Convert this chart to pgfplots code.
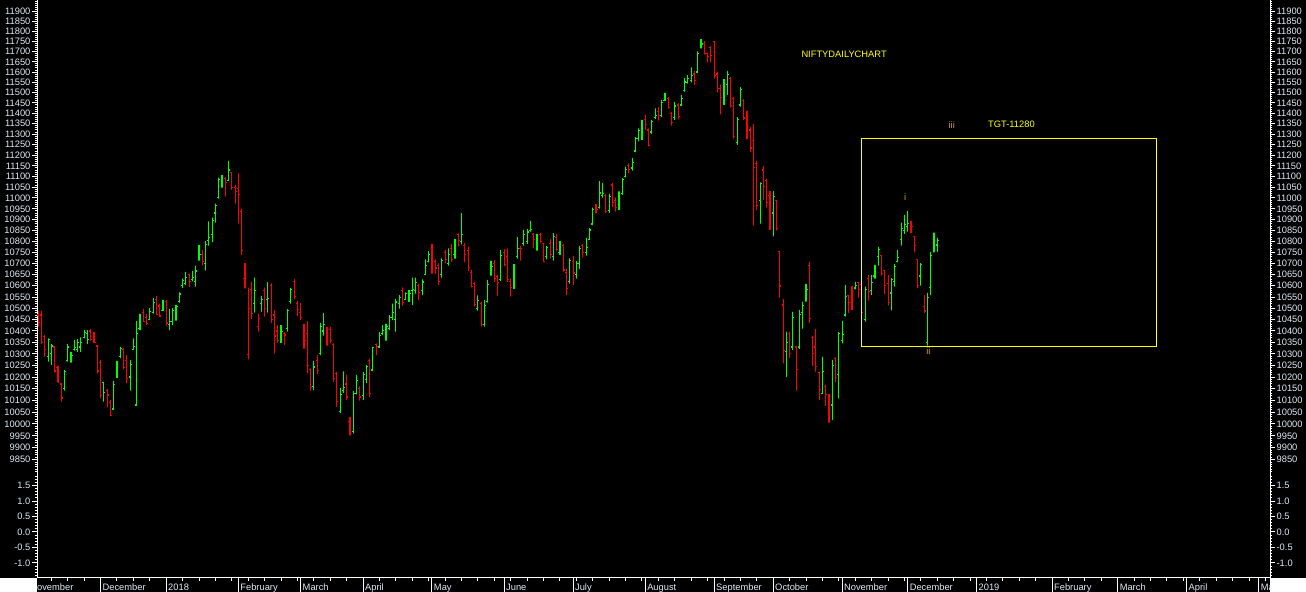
\documentclass[border=0pt]{standalone}
\usepackage{fontspec}
\setmainfont{Liberation Sans}
\usepackage{pgfplots}
\usepackage{pgfplotstable}
\pgfplotsset{compat=1.18}
\definecolor{bup}{RGB}{0,255,0}
\definecolor{bdn}{RGB}{255,0,0}
\definecolor{lbl}{RGB}{222,232,245}
\definecolor{wave}{RGB}{215,165,0}
\definecolor{ylw}{RGB}{255,255,0}
\tikzset{tl/.style={font=\fontsize{7}{8}\selectfont, text=lbl},
  ml/.style={tl, anchor=base west, inner sep=0pt, xshift=1.3pt}}
\pgfplotsset{
  base/.style={scale only axis, width=924.75pt, xmin=-19.38, xmax=356.4,
    axis line style={white, line width=0.75pt, -}, tick align=outside,
    tick style={white, line width=0.75pt}, major tick length=3.75pt, minor tick length=1.75pt},
  logprice/.style={y coord trafo/.code={\pgfmathparse{ln(##1)-9.2}},
    y coord inv trafo/.code={\pgfmathparse{exp(##1+9.2)}}},
}
\pgfplotstableread{
i o h l c u
-19 10470 10488 10419 10436 0
-18 10470 10488 10342 10350 0
-17 10375 10383 10288 10317 0
-16 10290 10368 10266 10361 1
-15 10300 10342 10252 10334 1
-14 10330 10334 10219 10226 0
-13 10240 10248 10177 10178 0
-12 10170 10173 10094 10110 0
-11 10150 10230 10141 10225 1
-10 10270 10343 10266 10330 1
-9 10280 10308 10262 10292 1
-8 10320 10361 10314 10328 1
-7 10320 10364 10309 10349 1
-6 10330 10372 10309 10350 1
-5 10370 10404 10368 10395 1
-4 10390 10404 10342 10364 1
-3 10400 10409 10358 10364 0
-2 10390 10395 10349 10349 0
-1 10334 10334 10216 10226 0
0 10263 10274 10108 10121 0
1 10175 10179 10094 10134 1
2 10140 10148 10070 10123 0
3 10090 10102 10033 10035 0
4 10063 10183 10063 10166 1
5 10199 10270 10199 10265 1
6 10290 10330 10281 10322 1
7 10320 10326 10233 10240 0
8 10270 10295 10173 10192 0
9 10200 10274 10141 10252 1
10 10320 10368 10317 10333 1
11 10080 10444 10077 10390 1
12 10410 10475 10404 10463 1
13 10480 10497 10441 10441 0
14 10460 10475 10427 10433 0
15 10450 10500 10448 10485 1
16 10480 10546 10477 10525 1
17 10540 10555 10471 10474 0
18 10510 10520 10466 10466 0
19 10490 10537 10489 10530 1
20 10530 10537 10423 10435 0
21 10430 10497 10404 10443 1
22 10440 10502 10426 10490 1
23 10460 10515 10445 10508 1
24 10530 10570 10525 10563 1
25 10600 10632 10591 10623 1
26 10610 10662 10603 10637 1
27 10650 10654 10594 10620 0
28 10630 10667 10620 10636 1
29 10620 10690 10596 10666 1
30 10720 10784 10713 10740 1
31 10740 10762 10691 10709 0
32 10702 10802 10668 10788 1
33 10806 10892 10781 10817 1
34 10830 10909 10798 10895 1
35 10930 10974 10886 10967 1
36 11000 11095 10997 11084 1
37 11080 11107 11048 11086 1
38 11090 11096 11006 11070 0
39 11080 11173 11082 11130 1
40 11120 11120 11037 11050 0
41 11050 11061 10974 11028 0
42 11044 11114 10883 11017 0
43 10938 10948 10738 10761 0
44 10631 10702 10589 10667 0
45 10296 10592 10276 10498 0
46 10585 10617 10453 10476 0
47 10520 10636 10480 10577 1
48 10420 10477 10397 10455 0
49 10520 10555 10485 10539 1
50 10580 10592 10463 10500 0
51 10540 10617 10480 10545 1
52 10600 10611 10436 10452 0
53 10470 10493 10302 10378 0
54 10400 10426 10349 10360 0
55 10350 10426 10349 10397 1
56 10390 10395 10339 10382 0
57 10410 10496 10397 10491 1
58 10530 10591 10520 10583 1
59 10620 10631 10540 10554 0
60 10520 10533 10466 10493 0
61 10480 10523 10448 10458 0
62 10430 10431 10323 10358 0
63 10390 10444 10216 10249 0
64 10233 10237 10141 10154 0
65 10160 10270 10144 10243 1
66 10270 10295 10213 10227 0
67 10300 10435 10295 10421 1
68 10400 10479 10380 10427 1
69 10400 10418 10336 10410 0
70 10405 10418 10346 10360 0
71 10340 10346 10180 10195 0
72 10215 10222 10072 10094 0
73 10051 10152 10047 10124 1
74 10141 10224 10132 10155 1
75 10170 10209 10102 10114 0
76 10010 10030 9952 9998 0
77 9968 10140 9960 10130 1
78 10130 10209 10126 10184 1
79 10150 10160 10099 10114 0
80 10120 10222 10102 10212 1
81 10190 10252 10173 10246 1
82 10270 10278 10114 10129 0
83 10230 10330 10228 10326 1
84 10340 10346 10294 10332 0
85 10330 10395 10327 10379 1
86 10390 10426 10383 10403 1
87 10400 10431 10358 10418 1
88 10410 10470 10404 10458 1
89 10460 10520 10448 10480 1
90 10450 10542 10397 10528 1
91 10520 10559 10499 10548 1
92 10580 10593 10512 10526 0
93 10540 10570 10538 10565 1
94 10560 10581 10528 10564 1
95 10580 10636 10515 10584 1
96 10580 10636 10565 10614 1
97 10600 10610 10537 10570 0
98 10580 10629 10559 10617 1
99 10650 10719 10650 10692 1
100 10710 10757 10705 10739 1
101 10780 10789 10654 10718 0
102 10710 10719 10654 10680 0
103 10690 10701 10604 10618 0
104 10650 10723 10637 10715 1
105 10750 10762 10701 10718 0
106 10700 10769 10690 10741 1
107 10770 10789 10708 10717 0
108 10740 10810 10722 10807 1
109 10830 10838 10778 10806 0
110 10800 10930 10787 10830 1
111 10780 10792 10705 10741 0
112 10760 10776 10665 10682 0
113 10660 10671 10593 10596 0
114 10610 10619 10508 10517 0
115 10500 10557 10489 10536 1
116 10520 10529 10419 10430 0
117 10430 10537 10419 10513 1
118 10530 10626 10525 10605 1
119 10660 10712 10645 10688 1
120 10700 10716 10618 10633 0
121 10640 10649 10556 10614 0
122 10630 10762 10622 10736 1
123 10750 10765 10687 10696 0
124 10730 10769 10618 10628 0
125 10620 10633 10552 10593 0
126 10600 10697 10586 10684 1
127 10730 10820 10722 10768 1
128 10770 10780 10713 10767 0
129 10790 10853 10781 10830 1
130 10800 10858 10789 10843 1
131 10850 10894 10845 10856 1
132 10830 10838 10769 10808 0
133 10770 10835 10759 10817 1
134 10830 10838 10792 10799 0
135 10790 10792 10706 10710 0
136 10730 10780 10719 10772 1
137 10790 10810 10723 10741 0
138 10730 10838 10713 10822 1
139 10820 10835 10755 10762 0
140 10750 10802 10739 10769 1
141 10780 10789 10663 10671 0
142 10660 10676 10559 10589 0
143 10620 10723 10610 10714 1
144 10710 10735 10604 10657 0
145 10650 10712 10632 10699 1
146 10700 10780 10676 10769 1
147 10780 10789 10727 10749 0
148 10750 10816 10736 10772 1
149 10810 10861 10807 10852 1
150 10880 10955 10875 10947 1
151 10960 10971 10930 10948 0
152 10958 11078 10951 11023 1
153 11010 11069 11001 11019 1
154 11010 11020 10930 10936 0
155 10940 11020 10930 11008 1
156 11060 11069 10957 10980 0
157 10990 11003 10937 10957 0
158 10960 11030 10945 11010 1
159 11020 11092 11014 11085 1
160 11100 11146 11096 11134 1
161 11150 11161 11114 11132 0
162 11140 11187 11128 11167 1
163 11220 11286 11214 11278 1
164 11280 11328 11266 11319 1
165 11300 11368 11273 11357 1
166 11370 11392 11320 11346 0
167 11320 11328 11243 11244 0
168 11310 11368 11301 11361 1
169 11380 11424 11373 11387 1
170 11410 11429 11365 11389 0
171 11390 11465 11381 11450 1
172 11460 11498 11459 11470 1
173 11470 11478 11422 11429 0
174 11400 11406 11341 11356 0
175 11380 11455 11368 11435 1
176 11440 11449 11371 11385 0
177 11440 11488 11437 11471 1
178 11510 11570 11505 11551 1
179 11550 11585 11543 11570 1
180 11560 11622 11550 11582 1
181 11590 11606 11537 11557 0
182 11600 11701 11598 11692 1
183 11730 11762 11716 11738 1
184 11740 11752 11685 11691 0
185 11690 11697 11647 11677 0
186 11720 11729 11647 11681 0
187 11751 11752 11568 11582 0
188 11590 11602 11501 11520 0
189 11520 11540 11394 11476 0
190 11450 11565 11440 11537 1
191 11540 11606 11489 11589 1
192 11570 11575 11427 11438 0
193 11470 11478 11278 11287 0
194 11260 11381 11249 11369 1
195 11440 11526 11432 11515 1
196 11460 11469 11368 11377 0
197 11400 11411 11276 11278 0
198 11320 11333 11214 11234 0
199 11271 11349 10872 11143 0
200 11160 11173 10945 10967 0
201 10990 11073 10881 11067 1
202 11130 11150 10991 11053 0
203 11080 11089 10955 10977 0
204 11010 11032 10853 10930 0
205 10930 11032 10823 11008 1
206 10990 10991 10850 10858 0
207 10754 10757 10547 10599 0
208 10514 10542 10259 10316 0
209 10310 10397 10199 10348 1
210 10390 10397 10281 10301 0
211 10330 10484 10317 10460 1
212 10330 10334 10141 10234 0
213 10330 10493 10322 10472 1
214 10480 10529 10410 10512 1
215 10550 10609 10530 10584 1
216 10690 10708 10436 10453 0
217 10370 10378 10248 10303 0
218 10330 10409 10223 10245 0
219 10220 10223 10102 10146 0
220 10130 10287 10127 10224 1
221 10160 10166 10076 10124 0
222 10120 10127 10005 10030 0
223 10080 10274 10017 10250 1
224 10280 10285 10177 10199 0
225 10210 10395 10108 10387 1
226 10360 10444 10346 10383 1
227 10470 10604 10463 10553 1
228 10558 10559 10478 10524 0
229 10553 10600 10493 10530 0
230 10590 10617 10584 10600 1
231 10614 10617 10547 10585 0
232 10607 10646 10441 10482 0
233 10451 10596 10441 10582 1
234 10634 10649 10534 10576 0
235 10580 10649 10559 10616 1
236 10644 10694 10632 10682 1
237 10731 10775 10691 10763 1
238 10738 10739 10646 10656 0
239 10668 10670 10564 10600 0
240 10612 10649 10512 10526 0
241 10568 10634 10490 10628 1
242 10621 10699 10596 10685 1
243 10708 10762 10705 10728 1
244 10809 10886 10781 10858 1
245 10850 10922 10835 10876 1
246 10870 10940 10845 10883 1
247 10877 10894 10838 10869 0
248 10821 10823 10750 10782 0
249 10718 10720 10591 10601 0
250 10644 10702 10601 10694 1
251 10508 10559 10478 10488 0
252 10350 10568 10336 10549 1
253 10591 10753 10559 10737 1
254 10810 10840 10750 10791 1
255 10784 10816 10753 10805 1
}\ohlc
% build one broken polyline per colour from the table: open tick, high-low line, close tick
\pgfplotstablegetrowsof{\ohlc}
\pgfmathtruncatemacro\lastrow{\pgfplotsretval-1}
\gdef\upc{}\gdef\dnc{}
\foreach \r in {0,...,\lastrow}{%
  \pgfplotstablegetelem{\r}{i}\of\ohlc\let\vi\pgfplotsretval
  \pgfplotstablegetelem{\r}{o}\of\ohlc\let\vo\pgfplotsretval
  \pgfplotstablegetelem{\r}{h}\of\ohlc\let\vh\pgfplotsretval
  \pgfplotstablegetelem{\r}{l}\of\ohlc\let\vl\pgfplotsretval
  \pgfplotstablegetelem{\r}{c}\of\ohlc\let\vc\pgfplotsretval
  \pgfplotstablegetelem{\r}{u}\of\ohlc\let\vu\pgfplotsretval
  \pgfmathsetmacro\xl{\vi-0.45}%
  \pgfmathsetmacro\xr{\vi+0.45}%
  \ifnum\vu=1
    \xdef\upc{\upc(\xl,\vo)(\vi,\vo)(\vi,\vh)(\vi,\vl)(\vi,\vc)(\xr,\vc)(nan,10000)}%
  \else
    \xdef\dnc{\dnc(\xl,\vo)(\vi,\vo)(\vi,\vh)(\vi,\vl)(\vi,\vc)(\xr,\vc)(nan,10000)}%
  \fi
}
\begin{document}
\begin{tikzpicture}[x=1pt,y=1pt]
\useasboundingbox (0,0) rectangle (979.5,444);
\fill[black] (0,10.5) rectangle (979.5,444);
\fill[black] (27.75,0) rectangle (952.5,10.5);
% upper panel, left scale and data (logarithmic price scale)
\begin{axis}[base, logprice, at={(27.75pt,88.5pt)}, anchor=south west, height=355.5pt,
  ymin=9791, ymax=11958, hide x axis, axis y line*=left,
  ytick={9850,9900,...,11900},
  yticklabels={9850,9900,9950,10000,10050,10100,10150,10200,10250,10300,10350,10400,10450,10500,10550,10600,10650,10700,10750,10800,10850,10900,10950,11000,11050,11100,11150,11200,11250,11300,11350,11400,11450,11500,11550,11600,11650,11700,11750,11800,11850,11900},
  minor ytick={9800,9810,...,11950},
  yticklabel style={tl, anchor=east, inner sep=0pt, xshift=-1pt}]
\edef\cmd{\noexpand\addplot[bup, line width=0.85pt, mark=none, unbounded coords=jump] coordinates {\upc};}\cmd
\edef\cmd{\noexpand\addplot[bdn, line width=0.85pt, mark=none, unbounded coords=jump] coordinates {\dnc};}\cmd
\draw[ylw, line width=0.75pt] (axis cs:231.85,10330) rectangle (axis cs:321.8,11280);
\node[tl, text=ylw] at (axis cs:226.6,11685) {NIFTYDAILYCHART};
\node[tl, text=ylw] at (axis cs:277.6,11347) {TGT-11280};
\node[tl, text=wave] at (axis cs:259.4,11344) {iii};
\node[tl, text=wave] at (axis cs:245.2,11006) {i};
\node[tl, text=wave] at (axis cs:252.3,10313) {ii};
\end{axis}
% upper panel, right scale
\begin{axis}[base, logprice, at={(27.75pt,88.5pt)}, anchor=south west, height=355.5pt,
  ymin=9791, ymax=11958, hide x axis, axis y line*=right,
  ytick={9850,9900,...,11900},
  yticklabels={9850,9900,9950,10000,10050,10100,10150,10200,10250,10300,10350,10400,10450,10500,10550,10600,10650,10700,10750,10800,10850,10900,10950,11000,11050,11100,11150,11200,11250,11300,11350,11400,11450,11500,11550,11600,11650,11700,11750,11800,11850,11900},
  minor ytick={9800,9810,...,11950},
  yticklabel style={tl, anchor=west, inner sep=0pt, xshift=1pt}]
\end{axis}
% lower panel
\begin{axis}[base, at={(27.75pt,10.5pt)}, anchor=south west, height=78pt,
  ymin=-1.486, ymax=1.873, hide x axis, axis y line*=left,
  ytick={-1,-0.5,0,0.5,1,1.5}, yticklabels={-1.0,-0.5,0.0,0.5,1.0,1.5},
  minor ytick={-1.4,-1.3,-1.2,-1.1,-0.9,-0.8,-0.7,-0.6,-0.4,-0.3,-0.2,-0.1,0.1,0.2,0.3,0.4,0.6,0.7,0.8,0.9,1.1,1.2,1.3,1.4,1.6,1.7,1.8},
  yticklabel style={tl, anchor=east, inner sep=0pt, xshift=-1pt}]
\end{axis}
\begin{axis}[base, at={(27.75pt,10.5pt)}, anchor=south west, height=78pt,
  ymin=-1.486, ymax=1.873, hide x axis, axis y line*=right,
  ytick={-1,-0.5,0,0.5,1,1.5}, yticklabels={-1.0,-0.5,0.0,0.5,1.0,1.5},
  minor ytick={-1.4,-1.3,-1.2,-1.1,-0.9,-0.8,-0.7,-0.6,-0.4,-0.3,-0.2,-0.1,0.1,0.2,0.3,0.4,0.6,0.7,0.8,0.9,1.1,1.2,1.3,1.4,1.6,1.7,1.8},
  yticklabel style={tl, anchor=west, inner sep=0pt, xshift=1pt}]
\end{axis}
% date strip
\begin{axis}[base, at={(27.75pt,0pt)}, anchor=south west, height=10.5pt,
  ymin=0, ymax=1, hide y axis, axis x line*=top, tick align=inside,
  major tick length=10.5pt, minor tick length=2.25pt, clip=false,
  xtick={0,20,42,61,80,101,123,144,166,187,205,226,246,267,290,310,331,353},
  xticklabels={}, minor xtick={-15,-10,...,355}]
\node[ml] at (axis cs:-22,0.12) {November};
\node[ml] at (axis cs:0,0.12) {December};
\node[ml] at (axis cs:20,0.12) {2018};
\node[ml] at (axis cs:42,0.12) {February};
\node[ml] at (axis cs:61,0.12) {March};
\node[ml] at (axis cs:80,0.12) {April};
\node[ml] at (axis cs:101,0.12) {May};
\node[ml] at (axis cs:123,0.12) {June};
\node[ml] at (axis cs:144,0.12) {July};
\node[ml] at (axis cs:166,0.12) {August};
\node[ml] at (axis cs:187,0.12) {September};
\node[ml] at (axis cs:205,0.12) {October};
\node[ml] at (axis cs:226,0.12) {November};
\node[ml] at (axis cs:246,0.12) {December};
\node[ml] at (axis cs:267,0.12) {2019};
\node[ml] at (axis cs:290,0.12) {February};
\node[ml] at (axis cs:310,0.12) {March};
\node[ml] at (axis cs:331,0.12) {April};
\node[ml] at (axis cs:353,0.12) {May};
\end{axis}
\fill[white] (0,0) rectangle (27.4,10.5);
\fill[white] (952.9,0) rectangle (979.5,10.5);
\end{tikzpicture}
\end{document}
